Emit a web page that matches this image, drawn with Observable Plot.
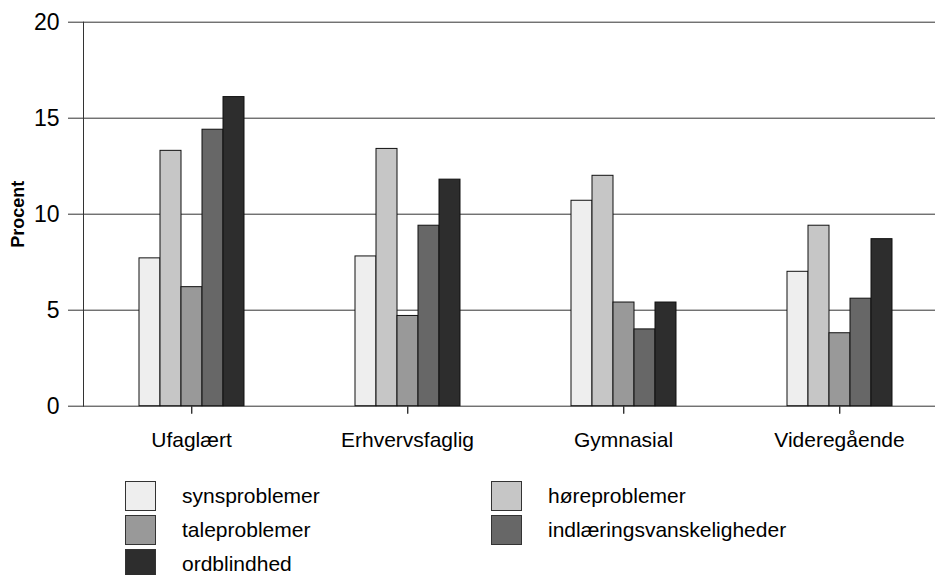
<!DOCTYPE html>
<html>
<head>
<meta charset="utf-8">
<script src="https://cdn.jsdelivr.net/npm/d3@7"></script>
<script src="https://cdn.jsdelivr.net/npm/@observablehq/plot@0.6"></script>
<style>
  html, body { margin: 0; padding: 0; background: #fff; }
  body { width: 935px; height: 575px; overflow: hidden; font-family: "Liberation Sans", Arial, sans-serif; }
  #chart { position: relative; width: 935px; height: 460px; }
  #legend { position: relative; width: 935px; height: 115px; }
  .item { position: absolute; display: flex; align-items: center; font-size: 21px; color: #000; }
  .sw { width: 29px; height: 28px; border: 1px solid #333; box-sizing: content-box; margin-right: 26px; }
</style>
</head>
<body>
<div id="chart"></div>
<div id="legend"></div>
<script>
const categories = ["Ufaglært", "Erhvervsfaglig", "Gymnasial", "Videregående"];
const seriesNames = ["synsproblemer", "høreproblemer", "taleproblemer", "indlæringsvanskeligheder", "ordblindhed"];
const synsproblemer = [7.7, 7.8, 10.7, 7.0];
const hoereproblemer = [13.3, 13.4, 12.0, 9.4];
const taleproblemer = [6.2, 4.7, 5.4, 3.8];
const indlaeringsvanskeligheder = [14.4, 9.4, 4.0, 5.6];
const ordblindhed = [16.1, 11.8, 5.4, 8.7];
const yTicks = [0, 5, 10, 15, 20];
const colors = ["#eeeeee", "#c6c6c6", "#999999", "#676767", "#2d2d2d"];

const seriesValues = [synsproblemer, hoereproblemer, taleproblemer, indlaeringsvanskeligheder, ordblindhed];
const data = [];
categories.forEach((cat, ci) => {
  seriesNames.forEach((s, si) => {
    data.push({cat, series: s, value: seriesValues[si][ci]});
  });
});

const chart = Plot.plot({
  width: 935,
  height: 460,
  marginLeft: 83,
  marginRight: -12,
  marginTop: 21.7,
  marginBottom: 54.3,
  style: {fontFamily: "Liberation Sans, Arial, sans-serif", color: "#000", background: "#fff"},
  fx: {domain: categories, padding: 0, label: null, axis: null},
  x: {domain: seriesNames, axis: null, paddingInner: 0, paddingOuter: 2.45},
  y: {domain: [0, 20]},
  color: {domain: seriesNames, range: colors},
  marks: [
    Plot.gridY(yTicks.filter(d => d > 0), {stroke: "#333", strokeOpacity: 1, strokeWidth: 1}),
    Plot.ruleY([0], {stroke: "#333", strokeWidth: 1}),
    Plot.ruleX(categories, {fx: d => d, x: () => seriesNames[2], y1: 0, y2: 0, insetTop: -8, insetBottom: -8, stroke: "#555"}),
    Plot.barY(data, {fx: "cat", x: "series", y: "value", fill: "series", stroke: "#111", strokeWidth: 1}),
    Plot.axisY({ticks: yTicks, tickSize: 15, tickPadding: 9, fontSize: 23, label: null, stroke: "#333"}),
    Plot.axisY({ticks: [], label: "Procent", labelAnchor: "center", labelArrow: "none", labelOffset: 72, fontSize: 18, fontWeight: "bold"}),
    Plot.axisFx({anchor: "bottom", tickSize: 8, tickPadding: 18, fontSize: 21, label: null, stroke: "#333", strokeOpacity: 1}),
    Plot.frame({anchor: "left", facetAnchor: "left", stroke: "#333"})
  ]
});
document.getElementById("chart").appendChild(chart);

const legend = document.getElementById("legend");
seriesNames.forEach((s, i) => {
  const col = i % 2, row = Math.floor(i / 2);
  const item = document.createElement("div");
  item.className = "item";
  item.style.left = (col === 0 ? 125 : 491) + "px";
  item.style.top = (21 + row * 34) + "px";
  const sw = document.createElement("div");
  sw.className = "sw";
  sw.style.background = colors[i];
  const label = document.createElement("span");
  label.textContent = s;
  item.appendChild(sw);
  item.appendChild(label);
  legend.appendChild(item);
});
</script>
</body>
</html>
